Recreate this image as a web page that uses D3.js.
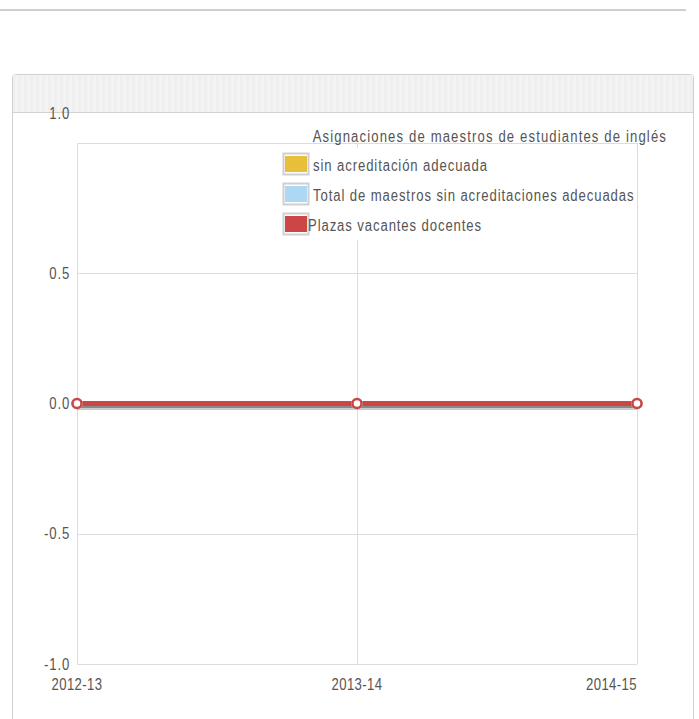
<!DOCTYPE html>
<html><head><meta charset="utf-8">
<script src="https://cdn.jsdelivr.net/npm/d3@7"></script>
<style>html,body{margin:0;padding:0;background:#fff;overflow:hidden}</style>
</head><body>
<svg id="c" width="699" height="719"></svg>
<script>
const categories = ["2012-13", "2013-14", "2014-15"];
const seriesNames = ["sin acreditación adecuada", "Total de maestros sin acreditaciones adecuadas", "Plazas vacantes docentes"];
const seriesColors = ["#e8bf3a", "#aed6f5", "#cc4646"];
const sinAcreditacion = [0, 0, 0];
const totalSinAcreditaciones = [0, 0, 0];
const plazasVacantes = [0, 0, 0];
const yTicks = [-1.0, -0.5, 0.0, 0.5, 1.0];
const chartTitle = "Asignaciones de maestros de estudiantes de inglés";

const series = [sinAcreditacion, totalSinAcreditaciones, plazasVacantes];
const svg = d3.select("#c");
const font = "'Liberation Sans', Arial, sans-serif";
const txt = "#555";
const SX = 0.82; // condensed look

function ctext(parent, x, y, str, anchor, spacing, dy) {
  return parent.append("text")
    .attr("transform", `translate(${x},${y}) scale(${SX},1)`)
    .attr("text-anchor", anchor).attr("dy", dy || null)
    .attr("font-family", font).attr("font-size", 16).attr("fill", txt)
    .attr("letter-spacing", spacing)
    .text(str);
}

// page top rule
svg.append("rect").attr("x",0).attr("y",9).attr("width",686).attr("height",2).attr("fill","#cfcfcf");

// panel
const defs = svg.append("defs");
const pat = defs.append("pattern").attr("id","stripes").attr("patternUnits","userSpaceOnUse").attr("width",6).attr("height",10);
pat.append("rect").attr("width",6).attr("height",10).attr("fill","#f3f3f3");
pat.append("rect").attr("width",3).attr("height",10).attr("fill","#efefef");
svg.append("rect").attr("x",12.5).attr("y",74.5).attr("width",681).attr("height",700).attr("rx",3)
  .attr("fill","#fff").attr("stroke","#d0d0d0");
svg.append("rect").attr("x",13).attr("y",75).attr("width",680).attr("height",37).attr("fill","url(#stripes)");
svg.append("line").attr("x1",13).attr("x2",693).attr("y1",112.5).attr("y2",112.5).attr("stroke","#d2d2d2");

const x = d3.scalePoint().domain(categories).range([77, 637]);
const y = d3.scaleLinear().domain([-1, 1]).range([664, 143]);

const g = svg.append("g");
// grid
g.selectAll(".hg").data(yTicks).join("line")
  .attr("x1",77).attr("x2",637).attr("y1",d=>Math.round(y(d))+0.5).attr("y2",d=>Math.round(y(d))+0.5)
  .attr("stroke","#dcdcdc");
g.selectAll(".vg").data(categories).join("line")
  .attr("x1",d=>Math.round(x(d))+0.5).attr("x2",d=>Math.round(x(d))+0.5).attr("y1",143).attr("y2",664)
  .attr("stroke","#dcdcdc");

// y labels
yTicks.forEach(t=>{
  ctext(g, 70, t===1 ? y(t)-30 : y(t), d3.format(".1f")(t).replace("−","-"), "end", 1.0, "0.35em");
});

// x labels
categories.forEach((c,i)=>{
  ctext(g, x(c), 690, c, i===categories.length-1 ? "end" : "middle", 0.5);
});

// legend background (covers grid)
svg.append("rect").attr("x",280).attr("y",148).attr("width",356).attr("height",92).attr("fill","#fff");

// title
ctext(svg, 667, 142, chartTitle, "end", 1.38);

// legend
const legY = [164, 194, 224];
const legTX = [313, 313, 308];
seriesNames.forEach((n,i)=>{
  svg.append("rect").attr("x",283.5).attr("y",legY[i]-10.5).attr("width",25).attr("height",21)
    .attr("fill","#fff").attr("stroke","#cfcfcf").attr("stroke-width",2);
  svg.append("rect").attr("x",285).attr("y",legY[i]-8).attr("width",22).attr("height",16).attr("fill",seriesColors[i]);
  ctext(svg, legTX[i], legY[i]+1, n, "start", 1.1, "0.35em");
});

// lines
const line = d3.line().x((d,i)=>x(categories[i])).y(d=>y(d));
series.forEach((s,i)=>{
  svg.append("path").datum(s).attr("d",line).attr("transform","translate(0,3)")
    .attr("fill","none").attr("stroke","rgba(0,0,0,0.07)").attr("stroke-width",7);
  svg.append("path").datum(s).attr("d",line).attr("transform","translate(0,2)")
    .attr("fill","none").attr("stroke","rgba(0,0,0,0.12)").attr("stroke-width",5);
  svg.append("path").datum(s).attr("d",line)
    .attr("fill","none").attr("stroke",seriesColors[i]).attr("stroke-width",5);
});
series.forEach((s,i)=>{
  svg.selectAll(null).data(s).join("circle")
    .attr("cx",(d,j)=>x(categories[j])).attr("cy",d=>y(d)).attr("r",4.5)
    .attr("fill","#fff").attr("stroke",seriesColors[i]).attr("stroke-width",2.5);
});
</script>
</body></html>
